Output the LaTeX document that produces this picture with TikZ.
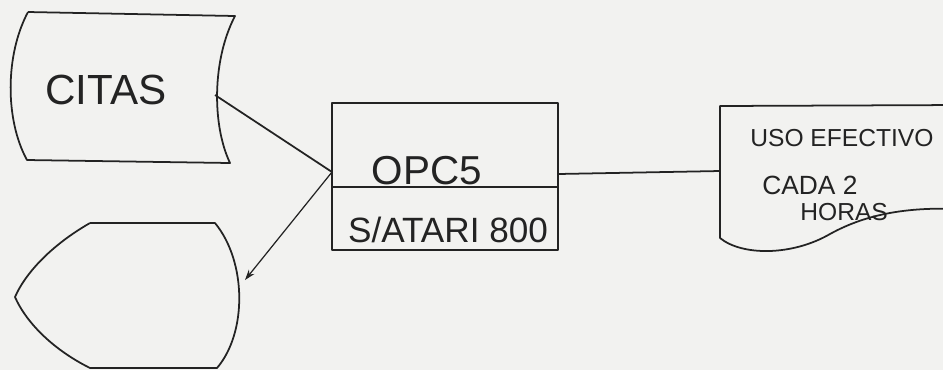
\documentclass[tikz,border=0pt]{standalone}
\usepackage{fontspec}
\setmainfont{Liberation Sans}
\usetikzlibrary{arrows.meta}
\definecolor{paper}{RGB}{242,242,240}
\definecolor{pencil}{RGB}{35,35,35}

\begin{document}
\begin{tikzpicture}[x=0.02cm, y=-0.02cm, >=Stealth,
  ink/.style={pencil, line width=1pt, line join=round},
  hand/.style={pencil, inner sep=0pt}]

  % ---------- Paper ----------
  \fill[paper] (0,0) rectangle (943,370);
  \useasboundingbox (0,0) rectangle (943,370);

  % ---------- Stored data: citas ----------
  \draw[ink] (28,12) -- (235,16) .. controls (212,60) and (212,125) .. (230,163)
    -- (27,160) .. controls (5,120) and (5,55) .. (28,12);
  \node[hand, font=\fontsize{24}{28}\selectfont] (citas) at (106,90) {CITAS};
  \coordinate (citasout) at (215,95);

  % ---------- Process ----------
  \draw[ink] (332,103) rectangle (558,250);
  \draw[ink] (332,187) -- (558,187);
  \node[hand, font=\fontsize{23}{27}\selectfont] (opc) at (427,171) {OPC5};
  \node[hand, font=\fontsize{20}{24}\selectfont] (atari) at (448,230) {S/ATARI 800};
  \coordinate (procin) at (332,172);
  \coordinate (procout) at (558,174);

  % ---------- Display ----------
  \draw[ink] (90,223) -- (215,223) .. controls (247,262) and (247,333) .. (217,368)
    -- (90,368) .. controls (50,348) and (25,320) .. (15,297)
    .. controls (25,274) and (50,246) .. (90,223);
  \coordinate (dispin) at (245,280);

  % ---------- Document ----------
  \draw[ink] (960,105) -- (720,106) -- (720,238)
    .. controls (742,256) and (792,256) .. (830,234)
    .. controls (868,213) and (910,207) .. (960,209);
  \node[hand, anchor=west, font=\fontsize{14}{17}\selectfont] (uso) at (750,138) {USO EFECTIVO};
  \node[hand, anchor=west, font=\fontsize{15}{18}\selectfont] (cada) at (762,185) {CADA 2};
  \node[hand, anchor=west, font=\fontsize{14}{17}\selectfont] (horas) at (800,212) {HORAS};
  \coordinate (docin) at (720,171);

  % ---------- Connectors ----------
  \draw[ink] (citasout) -- (procin);
  \draw[ink, line width=0.7pt, -{Stealth[length=6pt, width=4pt]}] (procin) -- (dispin);
  \draw[ink] (procout) -- (docin);

\end{tikzpicture}
\end{document}
